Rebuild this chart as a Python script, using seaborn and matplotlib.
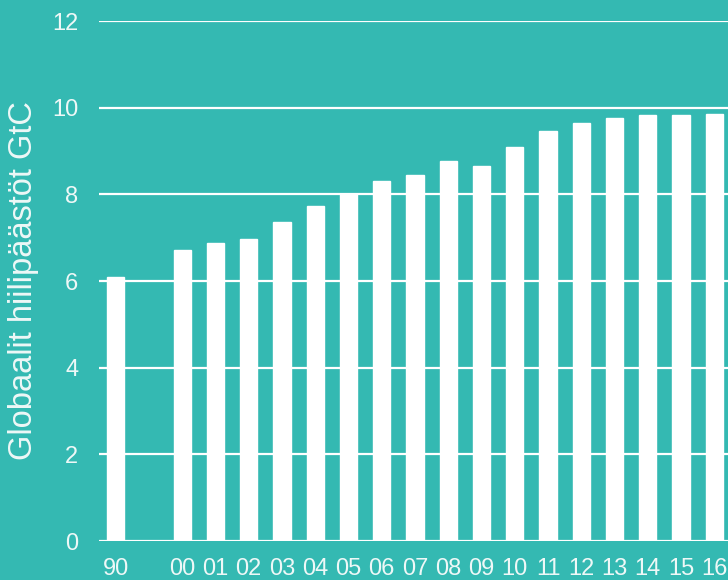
import matplotlib
matplotlib.use("Agg")
import matplotlib.pyplot as plt
import seaborn as sns
import pandas as pd

# Global carbon emissions (GtC) by year
years = ["90", "00", "01", "02", "03", "04", "05", "06", "07", "08",
         "09", "10", "11", "12", "13", "14", "15", "16"]
emissions = [6.09, 6.71, 6.87, 6.98, 7.37, 7.72, 8.00, 8.31, 8.45, 8.76,
             8.66, 9.10, 9.46, 9.64, 9.76, 9.82, 9.82, 9.85]
# category order, with a blank slot separating 1990 from 2000
slots = ["90", " "] + years[1:]
y_ticks = [0, 2, 4, 6, 8, 10, 12]

bg = "#34B9B2"
fg = "white"
label_color = "#EEF8F7"

df = pd.DataFrame({"year": years, "emissions": emissions})

sns.set_theme(style="white")
plt.rcParams["font.family"] = ["Liberation Sans", "DejaVu Sans"]

fig = plt.figure(figsize=(7.28, 5.8), dpi=100, facecolor=bg)
ax = fig.add_axes([99 / 728, 39 / 580, 632 / 728, 520 / 580])
ax.set_facecolor(bg)

sns.barplot(data=df, x="year", y="emissions", order=slots, color=fg,
            width=0.52, saturation=1, ax=ax, zorder=3)

ax.set_ylim(0, 12)
ax.set_yticks(y_ticks)
ax.set_yticklabels([str(t) for t in y_ticks], fontsize=17, color=label_color)
ax.set_xticklabels(slots, fontsize=17, color=label_color)
ax.tick_params(axis="both", length=0)
ax.tick_params(axis="y", pad=15)
ax.tick_params(axis="x", pad=12)

ax.grid(axis="y", color=fg, linewidth=1.6, zorder=1)
ax.set_axisbelow(True)
for s in ax.spines.values():
    s.set_visible(False)

ax.set_xlabel("")
ax.set_ylabel("Globaalit hiilipäästöt GtC", fontsize=23.5, color=label_color,
              labelpad=9)

fig.savefig("out.png", dpi=100, facecolor=bg)
